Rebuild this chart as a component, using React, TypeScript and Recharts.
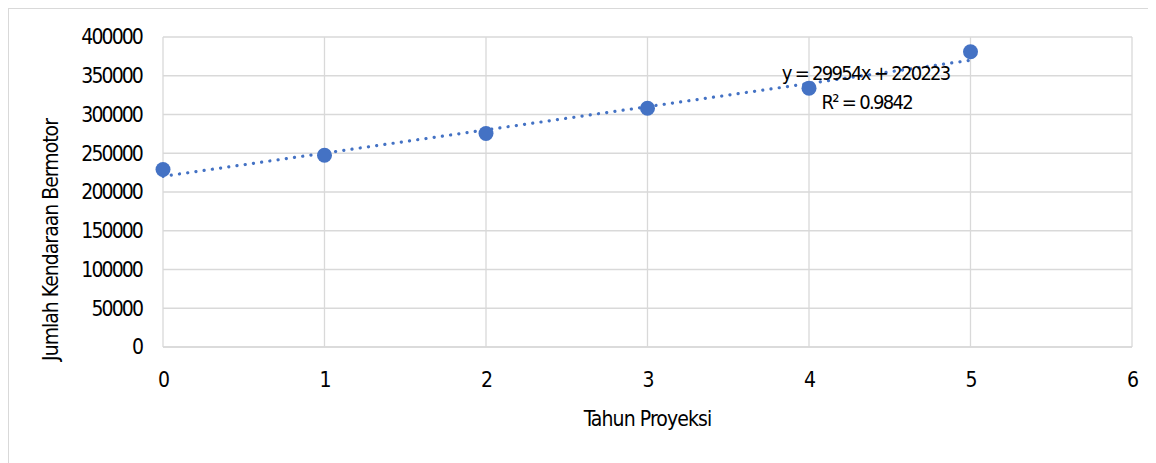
import { ScatterChart, Scatter, XAxis, YAxis, CartesianGrid, ReferenceDot } from "recharts";

// tahun proyeksi (x) dan jumlah kendaraan (y)
const years = [0, 1, 2, 3, 4, 5];
const vehicles = [229000, 247500, 275500, 308000, 334000, 381000];

// garis trend linier dari persamaan yang tertulis di grafik
const slope = 29954;
const intercept = 220223;
const trendX = [0, 5];

const yTicks = [0, 50000, 100000, 150000, 200000, 250000, 300000, 350000, 400000];
const xTicks = [0, 1, 2, 3, 4, 5, 6];

const FONT = "'DejaVu Sans Condensed', 'Liberation Sans Narrow', sans-serif";
const BLUE = "#4472C4";
const GRID = "#d9d9d9";

const points = years.map((x, i) => ({ x, y: vehicles[i] }));
const trend = trendX.map((x) => ({ x, y: slope * x + intercept }));

const tickStyle = { fontFamily: FONT, fontSize: 21, fill: "#000", letterSpacing: -1.9 };

function YTitle(props: any) {
  const vb = props.viewBox || {};
  const cx = vb.x + 42;
  const cy = vb.y + vb.height / 2 + 48;
  return (
    <text
      x={cx}
      y={cy}
      transform={`rotate(-90, ${cx}, ${cy})`}
      textAnchor="middle"
      dominantBaseline="central"
      fontFamily={FONT}
      fontSize={21}
      letterSpacing={-1.0}
      fill="#000"
    >
      Jumlah Kendaraan Bermotor
    </text>
  );
}

function TrendLabel(props: any) {
  const vb = props.viewBox || {};
  const x = vb.cx ?? vb.x;
  const y = vb.cy ?? vb.y;
  return (
    <g fontFamily={FONT} fontSize={20} fill="#000" textAnchor="middle" letterSpacing={-1.7}>
      <text x={x} y={y} dominantBaseline="central">
        y = 29954x + 220223
      </text>
      <text x={x + 1} y={y + 29} dominantBaseline="central">
        R² = 0.9842
      </text>
    </g>
  );
}

export default function App() {
  return (
    <div
      style={{
        width: 1148,
        height: 455,
        borderTop: "1px solid #d9d9d9",
        borderLeft: "1px solid #d9d9d9",
        boxSizing: "border-box",
        background: "#fff",
      }}
    >
      <ScatterChart width={1147} height={454} margin={{ top: 28, right: 24, left: 0, bottom: 0 }}>
        <CartesianGrid stroke={GRID} strokeWidth={1.3} />
        <XAxis
          type="number"
          dataKey="x"
          domain={[0, 6]}
          ticks={xTicks}
          height={116}
          axisLine={{ stroke: GRID, strokeWidth: 1.3 }}
          tickLine={false}
          tickSize={0}
          tickMargin={25}
          tick={tickStyle}
          label={{
            value: "Tahun Proyeksi",
            position: "insideBottom",
            offset: 37,
            fontFamily: FONT,
            fontSize: 21,
            letterSpacing: -0.9,
            fill: "#000",
          }}
        />
        <YAxis
          type="number"
          dataKey="y"
          domain={[0, 400000]}
          ticks={yTicks}
          width={154}
          axisLine={false}
          tickLine={false}
          tickSize={0}
          tickMargin={21}
          tick={tickStyle}
          label={<YTitle />}
        />
        <Scatter
          data={trend}
          isAnimationActive={false}
          line={{
            stroke: BLUE,
            strokeWidth: 3.2,
            strokeDasharray: "0.1 8.2",
            strokeLinecap: "round",
          }}
          shape={() => <g />}
        />
        <Scatter
          data={points}
          isAnimationActive={false}
          fill={BLUE}
          shape={(p: any) => <circle cx={p.cx} cy={p.cy} r={7.5} fill={BLUE} />}
        />
        <ReferenceDot
          x={4.351}
          y={353400}
          r={0}
          stroke="none"
          fill="none"
          label={<TrendLabel />}
        />
      </ScatterChart>
    </div>
  );
}
